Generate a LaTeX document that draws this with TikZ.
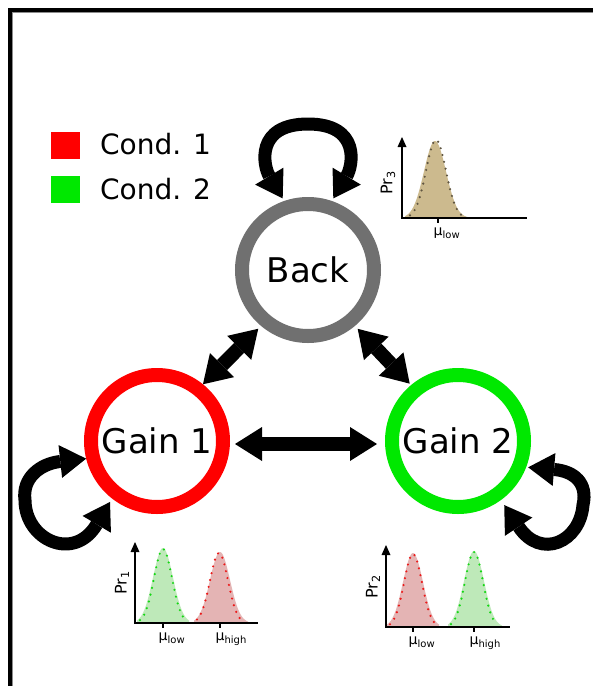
\documentclass[tikz,border=0pt]{standalone}
\usepackage{fontspec}
\setmainfont{DejaVu Sans}
\usetikzlibrary{arrows.meta,calc}
\definecolor{ringgrey}{RGB}{112,112,112}
\definecolor{ringred}{RGB}{255,0,0}
\definecolor{ringgreen}{RGB}{0,232,0}
\definecolor{gfill}{RGB}{190,233,185}
\definecolor{rfill}{RGB}{228,180,180}
\definecolor{tfill}{RGB}{204,186,142}
\definecolor{gdot}{RGB}{20,215,20}
\definecolor{rdot}{RGB}{235,25,25}
\definecolor{tdot}{RGB}{95,85,65}
\newcommand{\mulowtxt}{μ\raisebox{-3pt}{\fontsize{10}{10}\selectfont low}}
\newcommand{\muhightxt}{μ\raisebox{-3pt}{\fontsize{10}{10}\selectfont high}}
\tikzset{
  state/.style={circle,draw,line width=14pt,minimum size=132pt,inner sep=0pt,
    font=\fontsize{34}{34}\selectfont},
  bigarrow/.style={line width=14pt,
    {Triangle[length=27pt,width=34pt,line width=0pt]}-{Triangle[length=27pt,width=34pt,line width=0pt]}},
  selfarrow/.style={line width=13pt,
    {Triangle[length=26pt,width=33pt,line width=0pt]}-{Triangle[length=26pt,width=33pt,line width=0pt]}},
  axisline/.style={line width=2.5pt,line join=miter},
  axistip/.style={{Triangle[length=10pt,width=9pt,line width=0pt]}-},
  dotcurve/.style={line width=2.4pt,line cap=round,dash pattern=on 0pt off 7pt},
  prlabel/.style={rotate=90,inner sep=0pt,font=\fontsize{16}{16}\selectfont},
  mulabel/.style={anchor=base west,inner sep=0pt,font=\fontsize{14}{14}\selectfont},
  legendtext/.style={anchor=west,inner sep=0pt,font=\fontsize{28}{28}\selectfont},
}
\begin{document}
\begin{tikzpicture}[x=1pt,y=-1pt]
\fill[white] (0,0) rectangle (593,686);
\useasboundingbox (0,0) rectangle (593,686);
% frame
\draw[line width=4pt] (9.5,686) -- (9.5,9.5) -- (593,9.5);
\draw[black!45,line width=1.2pt] (12.1,686) -- (12.1,12.1) -- (593,12.1);

% legend
\fill[ringred] (51,132) rectangle (80,159);
\fill[ringgreen] (51,176) rectangle (80,203);
\node[legendtext] (c1) at (100,144.5) {Cond. 1};
\node[legendtext] (c2) at (100,189) {Cond. 2};

% states
\node[state,draw=ringgrey] (back) at (308,270) {Back};
\node[state,draw=ringred] (g1) at (157,441) {Gain 1};
\node[state,draw=ringgreen] (g2) at (458,441) {Gain 2};

% connectors
\draw[bigarrow,shorten <=5pt,shorten >=8pt] ([yshift=-3pt]g1.east) -- ([yshift=-3pt]g2.west);
\draw[bigarrow,shorten <=4pt] (back.-130) -- (g1.51);
\draw[bigarrow,shorten <=4pt,shorten >=2pt] (back.-50) -- (g2.130);

% self loops
\coordinate (btop) at ($(back)+(0,-146)$);
\draw[selfarrow,shorten <=3pt,shorten >=3pt] (back.109) .. controls +(-21,-35) and +(-53,0) .. (btop)
   .. controls +(53,0) and +(21,-35) .. (back.71);
\coordinate (gl) at ($(g1)+(-132,59)$);
\draw[selfarrow,shorten >=4pt] (g1.194) .. controls +(-46,5) and +(-3,-22) .. (gl)
   .. controls +(0,40) and +(-38,64) .. (g1.232);
\coordinate (gr) at ($(g2)+(125,64)$);
\draw[selfarrow,shorten <=2pt,shorten >=6pt] (g2.-21) .. controls +(48,4) and +(5,-22) .. (gr)
   .. controls +(-3,37) and +(40,60) .. (g2.-54);

% histogram Back
\begin{scope}[shift={(402,218)},yscale=-1]
  \fill[tfill] (3,0) -- plot[domain=3:69,samples=60] (\x,{77*exp(-(\x-33)*(\x-33)/242)}) -- (69,0) -- cycle;
  \draw[dotcurve,tdot] plot[domain=8:60,samples=60] (\x,{78*exp(-(\x-34)*(\x-34)/200)});
  \draw[axisline,axistip] (0,81) -- (0,0) -- (125,0);
  \draw[axisline] (36,0) -- (36,-5);
  \node[prlabel] (pr3) at (-14,35) {Pr\textsubscript{3}};
  \node[mulabel] (lo3) at (31.5,-17) {\mulowtxt};
\end{scope}

% histogram Gain 1
\begin{scope}[shift={(135,623)},yscale=-1]
  \fill[gfill] (2,0) -- plot[domain=2:54,samples=50] (\x,{75*exp(-(\x-28)*(\x-28)/200)}) -- (54,0) -- cycle;
  \fill[rfill] (59,0) -- plot[domain=59:113,samples=50] (\x,{71*exp(-(\x-85)*(\x-85)/200)}) -- (113,0) -- cycle;
  \draw[dotcurve,gdot] plot[domain=5:51,samples=50] (\x,{74*exp(-(\x-28)*(\x-28)/162)});
  \draw[dotcurve,rdot] plot[domain=62:108,samples=50] (\x,{70*exp(-(\x-84)*(\x-84)/162)});
  \draw[axisline,axistip] (0,81) -- (0,0) -- (123,0);
  \draw[axisline] (28,0) -- (28,-5) (85,0) -- (85,-5);
  \node[prlabel] (pr1) at (-13,40) {Pr\textsubscript{1}};
  \node[mulabel] (lo1) at (23.5,-17) {\mulowtxt};
  \node[mulabel] (hi1) at (80.5,-17) {\muhightxt};
\end{scope}

% histogram Gain 2
\begin{scope}[shift={(386,627)},yscale=-1]
  \fill[rfill] (1,0) -- plot[domain=1:53,samples=50] (\x,{74*exp(-(\x-27)*(\x-27)/200)}) -- (53,0) -- cycle;
  \fill[gfill] (62,0) -- plot[domain=62:116,samples=50] (\x,{76*exp(-(\x-88)*(\x-88)/200)}) -- (116,0) -- cycle;
  \draw[dotcurve,rdot] plot[domain=4:50,samples=50] (\x,{73*exp(-(\x-27)*(\x-27)/162)});
  \draw[dotcurve,gdot] plot[domain=65:111,samples=50] (\x,{75*exp(-(\x-88)*(\x-88)/162)});
  \draw[axisline,axistip] (0,82) -- (0,0) -- (124,0);
  \draw[axisline] (27,0) -- (27,-5) (88,0) -- (88,-5);
  \node[prlabel] (pr2) at (-13,40) {Pr\textsubscript{2}};
  \node[mulabel] (lo2) at (22.5,-17) {\mulowtxt};
  \node[mulabel] (hi2) at (83.5,-17) {\muhightxt};
\end{scope}
\end{tikzpicture}
\end{document}
